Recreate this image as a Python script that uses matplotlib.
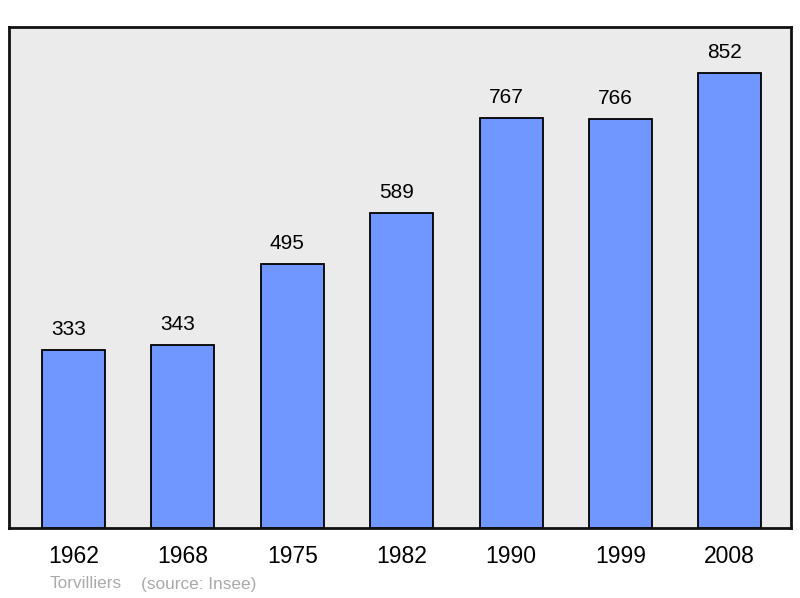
import matplotlib
matplotlib.use("Agg")
import matplotlib.pyplot as plt

years = ["1962", "1968", "1975", "1982", "1990", "1999", "2008"]
population = [333, 343, 495, 589, 767, 766, 852]
commune = "Torvilliers"
source = "(source: Insee)"

plt.rcParams['font.family'] = ['Liberation Sans', 'DejaVu Sans']

fig = plt.figure(figsize=(8, 5.98), dpi=100)
ax = fig.add_axes([9/800, 70/598, 782/800, 501/598])
ax.set_facecolor('#ebebeb')
x = range(len(years))
ax.bar(x, population, width=0.576, color='#7096ff', edgecolor='black', linewidth=1.3, zorder=2)
for xi, v in zip(x, population):
    ax.annotate(str(v), (xi, v), xytext=(-3.6, 8), textcoords='offset points',
                ha='center', va='bottom', fontsize=15)
ax.set_xlim(-0.59, 6.56)
ax.set_ylim(0, 938)
ax.set_yticks([])
ax.set_xticks(list(x))
ax.set_xticklabels(years, fontsize=16.5)
ax.tick_params(axis='x', length=0, pad=12)
for s in ax.spines.values():
    s.set_linewidth(2)
    s.set_color('#111111')
fig.text(50/800, 1 - 584/598, commune, color='#aaaaaa', fontsize=12.4, ha='left', va='center')
fig.text(141/800, 1 - 584/598, source, color='#aaaaaa', fontsize=12.4, ha='left', va='center')
fig.savefig('out.png', dpi=100, facecolor='white')
